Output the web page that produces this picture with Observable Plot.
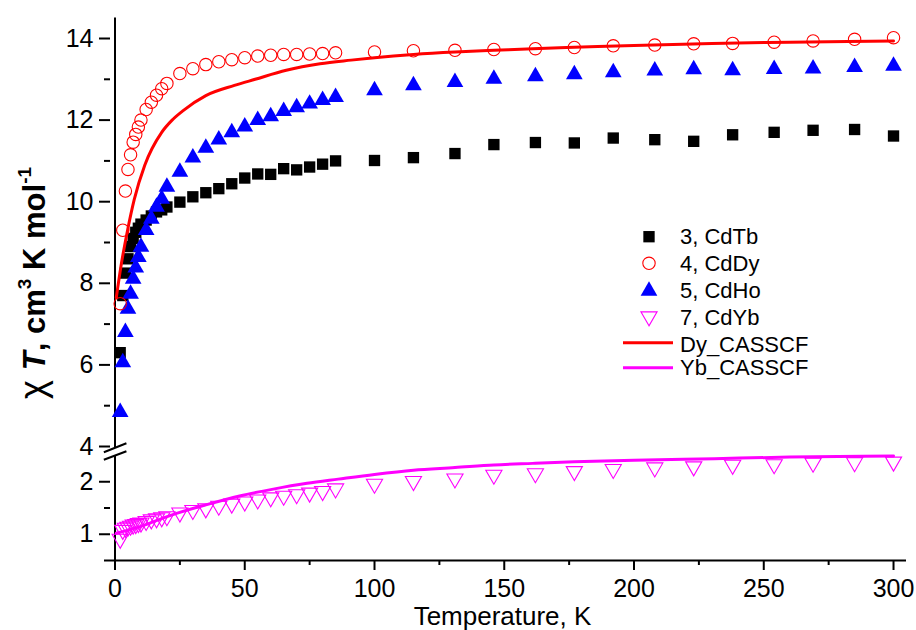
<!DOCTYPE html>
<html>
<head>
<meta charset="utf-8">
<script src="https://cdn.jsdelivr.net/npm/d3@7"></script>
<script src="https://cdn.jsdelivr.net/npm/@observablehq/plot@0.6"></script>
<style>
  body { margin: 0; background: #fff; }
  #chart { width: 916px; height: 630px; }
</style>
</head>
<body>
<div id="chart"></div>
<script>
// Temperatures (K) of the measured points, shared by all four samples
const temps = [2, 3, 4, 5, 6, 7, 8, 9, 10, 12, 14, 16, 18, 20, 25, 30, 35, 40, 45, 50, 55, 60, 65, 70, 75, 80, 85,
  100, 115, 131, 146, 162, 177, 192, 208, 223, 238, 254, 269, 285, 300];

// chi*T (cm3 K mol-1) for each sample
const cdTb = [6.3, 7.7, 8.25, 8.6, 8.9, 9.1, 9.25, 9.35, 9.45, 9.55, 9.65, 9.75, 9.8, 9.87, 9.99, 10.12, 10.22, 10.32, 10.44, 10.58, 10.68, 10.67, 10.81, 10.78, 10.85, 10.92, 11.0,
  11.01, 11.08, 11.18, 11.4, 11.45, 11.44, 11.56, 11.52, 11.48, 11.64, 11.7, 11.75, 11.77, 11.61];
const cdDy = [7.5, 9.3, 10.26, 10.79, 11.15, 11.46, 11.65, 11.83, 12.0, 12.26, 12.44, 12.61, 12.77, 12.9, 13.14, 13.26, 13.36, 13.43, 13.48, 13.53, 13.57, 13.59, 13.61, 13.61, 13.62, 13.63, 13.65,
  13.67, 13.7, 13.71, 13.73, 13.75, 13.78, 13.82, 13.84, 13.87, 13.88, 13.91, 13.94, 13.98, 14.02];
const cdHo = [4.84, 6.06, 6.8, 7.37, 7.74, 8.11, 8.38, 8.64, 8.89, 9.3, 9.58, 9.87, 10.07, 10.36, 10.73, 11.08, 11.32, 11.52, 11.7, 11.84, 12.0, 12.09, 12.22, 12.31, 12.4, 12.49, 12.56,
  12.73, 12.85, 12.93, 13.01, 13.07, 13.12, 13.17, 13.21, 13.24, 13.22, 13.25, 13.26, 13.3, 13.33];
const cdYb = [0.91, 1.08, 1.12, 1.14, 1.16, 1.18, 1.19, 1.21, 1.22, 1.25, 1.28, 1.3, 1.32, 1.34, 1.41, 1.46, 1.49, 1.54, 1.58, 1.62, 1.66, 1.7, 1.73, 1.76, 1.79, 1.82, 1.87,
  1.96, 2.01, 2.06, 2.13, 2.16, 2.2, 2.24, 2.27, 2.29, 2.32, 2.33, 2.36, 2.37, 2.38];

// CASSCF calculated curves
const dyCalcT = [0.5, 2.3, 4.9, 7.4, 11.5, 18, 22, 26, 35, 46, 54, 66, 79, 91, 100, 115, 131, 146, 161, 180, 200, 230, 260, 300];
const dyCalc  = [7.65, 8.42, 9.32, 10.05, 10.9, 11.7, 12.0, 12.22, 12.6, 12.85, 13.0, 13.22, 13.38, 13.47, 13.53, 13.61, 13.67, 13.71, 13.75, 13.79, 13.83, 13.88, 13.91, 13.94];
const ybCalcT = [0.5, 9.4, 22, 35, 48, 61, 74, 86, 100, 115, 131, 146, 161, 177, 200, 231, 260, 300];
const ybCalc  = [1.02, 1.14, 1.37, 1.56, 1.73, 1.86, 1.97, 2.05, 2.14, 2.22, 2.27, 2.32, 2.35, 2.38, 2.41, 2.44, 2.47, 2.49];

// Axis ticks
const xTicksMajor = [0, 50, 100, 150, 200, 250, 300];
const xTicksMinor = [25, 75, 125, 175, 225, 275];
const yTicksMajor = [1, 2, 4, 6, 8, 10, 12, 14];
const yTicksMinor = [0.5, 1.5, 5, 7, 9, 11, 13];

// Broken y axis: lower segment 0.5–2.5, a short gap, upper segment 4–14.5
const lowerSpan = [0.5, 2.5];
const upperSpan = [4, 14.5];
const lowerUnit = 52.5, gapUnit = 6, upperUnit = 40.8;
function brokenY(v) {
  if (v <= lowerSpan[1]) return (v - lowerSpan[0]) * lowerUnit;
  const lowTop = (lowerSpan[1] - lowerSpan[0]) * lowerUnit;
  if (v < upperSpan[0]) return lowTop + (v - lowerSpan[1]) * gapUnit;
  return lowTop + (upperSpan[0] - lowerSpan[1]) * gapUnit + (v - upperSpan[0]) * upperUnit;
}
const axisSegments = [{lo: 0.5, hi: 2.5}, {lo: 3.85, hi: 14.5}];
const breakMarks = [
  {t1: -4.3, v1: 3.05, t2: 4.4, v2: 4.08},
  {t1: -4.3, v1: 2.418, t2: 4.4, v2: 3.217}
];

const seriesNames = ["3, CdTb", "4, CdDy", "5, CdHo", "7, CdYb", "Dy_CASSCF", "Yb_CASSCF"];

const rows = vals => temps.map((T, i) => ({T, v: vals[i]}));
const curve = (ts, vs) => ts.map((T, i) => ({T, v: vs[i]}));

// Downward-pointing triangle (mirror of d3.symbolTriangle)
const sqrt3 = Math.sqrt(3);
const triangleDown = {
  draw(context, size) {
    const y = Math.sqrt(size / (sqrt3 * 3));
    context.moveTo(0, y * 2);
    context.lineTo(-sqrt3 * y, -y);
    context.lineTo(sqrt3 * y, -y);
    context.closePath();
  }
};

const font = "'Liberation Sans', Arial, Helvetica, sans-serif";

// axis marks take tick positions on the broken (transformed) y scale
const yAxisMajor = yTicksMajor.map(brokenY);
const yAxisMinor = yTicksMinor.map(brokenY);

const chart = Plot.plot({
  width: 916,
  height: 630,
  marginLeft: 110,
  marginRight: 10,
  marginTop: 17,
  marginBottom: 70,
  style: {fontFamily: font, fontSize: "25px", background: "#fff", color: "#000"},
  x: {domain: [0, 305], range: [114.5, 906]},
  y: {transform: brokenY, domain: [0, brokenY(upperSpan[1])], range: [560, 17.6]},
  marks: [
    // axis lines
    Plot.ruleY([0.5], {stroke: "#000", strokeWidth: 2}),
    Plot.ruleX(axisSegments, {x: 0, y1: "lo", y2: "hi", stroke: "#000", strokeWidth: 2}),
    Plot.link(breakMarks, {x1: "t1", y1: "v1", x2: "t2", y2: "v2", stroke: "#000", strokeWidth: 2}),
    // ticks
    Plot.axisX({ticks: xTicksMajor, tickSize: 10, tickPadding: 9, strokeWidth: 2, fontSize: 25, label: null, tickFormat: d => d}),
    Plot.axisX({ticks: xTicksMinor, tickSize: 5, strokeWidth: 2, label: null, tickFormat: () => ""}),
    Plot.axisY({ticks: yAxisMajor, tickSize: 11, tickPadding: 6, strokeWidth: 2, fontSize: 25, label: null,
      tickFormat: d => yTicksMajor[yAxisMajor.indexOf(d)]}),
    Plot.axisY({ticks: yAxisMinor, tickSize: 6, strokeWidth: 2, label: null, tickFormat: () => ""}),
    // measured points
    Plot.dot(rows(cdTb), {x: "T", y: "v", symbol: "square", r: 6.4, fill: "#000", stroke: "none"}),
    Plot.dot(rows(cdHo), {x: "T", y: "v", symbol: "triangle", r: 6.2, fill: "#0000FF", stroke: "none"}),
    Plot.dot(rows(cdDy), {x: "T", y: "v", symbol: "circle", r: 6.2, fill: "none", stroke: "#FF0000", strokeWidth: 1.1}),
    Plot.dot(rows(cdYb), {x: "T", y: "v", symbol: triangleDown, r: 6.0, fill: "none", stroke: "#FF00FF", strokeWidth: 1.1}),
    // calculated curves
    Plot.line(curve(dyCalcT, dyCalc), {x: "T", y: "v", stroke: "#FF0000", strokeWidth: 3, curve: "monotone-x"}),
    Plot.line(curve(ybCalcT, ybCalc), {x: "T", y: "v", stroke: "#FF00FF", strokeWidth: 3, curve: "monotone-x"}),
    // x axis title
    Plot.text(["Temperature, K"], {frameAnchor: "bottom", dy: 64, dx: -6, fontSize: 26, lineAnchor: "bottom", fill: "#000"})
  ]
});

document.getElementById("chart").appendChild(chart);

const svg = d3.select(chart);

// y axis title with italic T and superscripts
const title = svg.append("text")
  .attr("transform", "translate(45,283) rotate(-90)")
  .attr("text-anchor", "middle")
  .attr("font-family", font)
  .attr("font-size", 31)
  .attr("font-weight", "bold")
  .attr("fill", "#000");
title.append("tspan").attr("font-weight", "normal").attr("font-size", 36).text("χ ");
title.append("tspan").attr("font-style", "italic").text("T");
title.append("tspan").text(", cm");
title.append("tspan").attr("font-size", 19).attr("dy", -14).text("3");
title.append("tspan").attr("dy", 14).text(" K mol");
title.append("tspan").attr("font-size", 19).attr("dy", -14).text("-1");

// legend
const legend = svg.append("g").attr("font-family", font).attr("font-size", 22).attr("fill", "#000").attr("text-anchor", "start");
const baselines = [244, 271, 297.5, 325, 351.5, 375];
const symX = 649;
const sym = (type, size) => d3.symbol(type, size)();
legend.append("path").attr("transform", `translate(${symX},236.7)`).attr("d", sym(d3.symbolSquare, Math.PI * 6.4 * 6.4)).attr("fill", "#000");
legend.append("path").attr("transform", `translate(${symX},263.3)`).attr("d", sym(d3.symbolCircle, Math.PI * 6.2 * 6.2)).attr("fill", "none").attr("stroke", "#FF0000").attr("stroke-width", 1.1);
legend.append("path").attr("transform", `translate(${symX},291)`).attr("d", sym(d3.symbolTriangle, Math.PI * 6.2 * 6.2)).attr("fill", "#0000FF");
legend.append("path").attr("transform", `translate(${symX},316.5)`).attr("d", sym(triangleDown, Math.PI * 6 * 6)).attr("fill", "none").attr("stroke", "#FF00FF").attr("stroke-width", 1.1);
legend.append("line").attr("x1", 623).attr("x2", 673).attr("y1", 342.7).attr("y2", 342.7).attr("stroke", "#FF0000").attr("stroke-width", 3);
legend.append("line").attr("x1", 623).attr("x2", 673).attr("y1", 367.7).attr("y2", 367.7).attr("stroke", "#FF00FF").attr("stroke-width", 3);
seriesNames.forEach((name, i) => {
  legend.append("text").attr("x", 680).attr("y", baselines[i]).text(name);
});
</script>
</body>
</html>
